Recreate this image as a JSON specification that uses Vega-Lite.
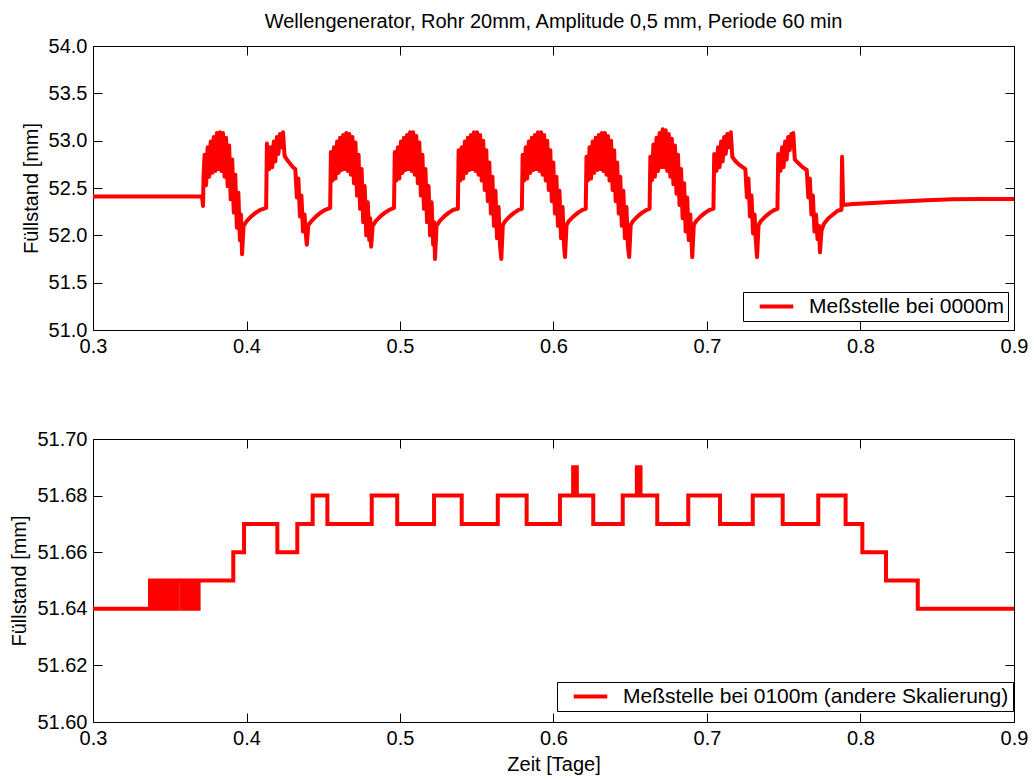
{
"$schema": "https://vega.github.io/schema/vega-lite/v6.json",
"background": "white",
"padding": {"left": 9, "top": 12, "right": 5, "bottom": 5},
"bounds": "flush",
"spacing": 109,
"title": {"text": "Wellengenerator, Rohr 20mm, Amplitude 0,5 mm, Periode 60 min", "anchor": "middle", "frame": "group", "fontSize": 20, "font": "Liberation Sans", "fontWeight": "normal", "color": "black", "offset": 4},
"config": {
  "view": {"stroke": null},
  "axis": {"domainColor": "black", "domainWidth": 1, "tickColor": "black", "tickWidth": 1, "tickSize": -9, "labelColor": "black", "titleColor": "black", "labelFont": "Liberation Sans", "titleFont": "Liberation Sans", "labelFontSize": 20, "titleFontSize": 20, "titleFontWeight": "normal", "grid": false, "labelFlush": false, "labelOverlap": false},
  "axisX": {"labelPadding": 15, "titlePadding": 6},
  "axisY": {"labelPadding": 15, "titlePadding": 7}
},
"resolve": {"scale": {"color": "independent", "x": "independent", "y": "independent"}},
"datasets": {
"top": [
{"t":0.3000,"v":52.41},{"t":0.3710,"v":52.41},{"t":0.3717,"v":52.31},{"t":0.3720,"v":52.62},
{"t":0.3727,"v":52.85},{"t":0.3737,"v":52.53},{"t":0.3747,"v":52.93},{"t":0.3757,"v":52.62},{"t":0.3767,"v":52.99},{"t":0.3777,"v":52.66},{"t":0.3787,"v":53.04},{"t":0.3797,"v":52.68},{"t":0.3807,"v":53.08},{"t":0.3817,"v":52.70},{"t":0.3827,"v":53.09},{"t":0.3837,"v":52.68},{"t":0.3847,"v":53.08},{"t":0.3857,"v":52.62},{"t":0.3867,"v":53.03},{"t":0.3877,"v":52.52},{"t":0.3887,"v":52.95},{"t":0.3897,"v":52.38},{"t":0.3907,"v":52.80},{"t":0.3917,"v":52.24},{"t":0.3927,"v":52.64},{"t":0.3937,"v":52.08},{"t":0.3947,"v":52.45},{"t":0.3957,"v":51.95},{"t":0.3964,"v":52.22},{"t":0.3971,"v":51.80},{"t":0.3981,"v":52.10},{"t":0.4001,"v":52.15},{"t":0.4031,"v":52.20},{"t":0.4061,"v":52.24},{"t":0.4091,"v":52.27},{"t":0.4128,"v":52.29},
{"t":0.4133,"v":52.97},{"t":0.4139,"v":52.75},{"t":0.4148,"v":52.70},{"t":0.4158,"v":52.93},{"t":0.4168,"v":52.72},{"t":0.4178,"v":52.99},{"t":0.4188,"v":52.78},{"t":0.4198,"v":53.04},{"t":0.4208,"v":52.86},{"t":0.4218,"v":53.07},{"t":0.4228,"v":52.93},{"t":0.4238,"v":53.09},{"t":0.4248,"v":52.84},{"t":0.4263,"v":52.80},{"t":0.4283,"v":52.76},{"t":0.4303,"v":52.72},{"t":0.4318,"v":52.70},{"t":0.4328,"v":52.40},{"t":0.4338,"v":52.60},{"t":0.4348,"v":52.20},{"t":0.4358,"v":52.42},{"t":0.4368,"v":52.04},{"t":0.4378,"v":52.22},{"t":0.4388,"v":51.98},{"t":0.4393,"v":51.90},{"t":0.4403,"v":52.11},{"t":0.4423,"v":52.15},{"t":0.4453,"v":52.20},{"t":0.4483,"v":52.24},{"t":0.4513,"v":52.27},{"t":0.4545,"v":52.29},
{"t":0.4550,"v":52.88},{"t":0.4560,"v":52.58},{"t":0.4570,"v":52.93},{"t":0.4580,"v":52.60},{"t":0.4590,"v":52.99},{"t":0.4600,"v":52.66},{"t":0.4610,"v":53.03},{"t":0.4620,"v":52.69},{"t":0.4630,"v":53.06},{"t":0.4640,"v":52.70},{"t":0.4650,"v":53.08},{"t":0.4660,"v":52.68},{"t":0.4670,"v":53.07},{"t":0.4680,"v":52.64},{"t":0.4690,"v":53.04},{"t":0.4700,"v":52.55},{"t":0.4710,"v":52.98},{"t":0.4720,"v":52.42},{"t":0.4730,"v":52.85},{"t":0.4740,"v":52.28},{"t":0.4750,"v":52.70},{"t":0.4760,"v":52.14},{"t":0.4770,"v":52.52},{"t":0.4780,"v":52.00},{"t":0.4790,"v":52.35},{"t":0.4800,"v":51.95},{"t":0.4806,"v":52.18},{"t":0.4812,"v":51.88},{"t":0.4822,"v":52.10},{"t":0.4842,"v":52.15},{"t":0.4872,"v":52.20},{"t":0.4902,"v":52.24},{"t":0.4932,"v":52.27},{"t":0.4961,"v":52.29},
{"t":0.4966,"v":52.88},{"t":0.4976,"v":52.58},{"t":0.4986,"v":52.93},{"t":0.4996,"v":52.60},{"t":0.5006,"v":52.99},{"t":0.5016,"v":52.66},{"t":0.5026,"v":53.03},{"t":0.5036,"v":52.69},{"t":0.5046,"v":53.06},{"t":0.5056,"v":52.70},{"t":0.5066,"v":53.09},{"t":0.5076,"v":52.68},{"t":0.5086,"v":53.09},{"t":0.5096,"v":52.64},{"t":0.5106,"v":53.05},{"t":0.5116,"v":52.55},{"t":0.5126,"v":52.98},{"t":0.5136,"v":52.42},{"t":0.5146,"v":52.85},{"t":0.5156,"v":52.28},{"t":0.5166,"v":52.70},{"t":0.5176,"v":52.14},{"t":0.5186,"v":52.52},{"t":0.5196,"v":52.00},{"t":0.5206,"v":52.35},{"t":0.5216,"v":51.90},{"t":0.5222,"v":52.14},{"t":0.5228,"v":51.75},{"t":0.5238,"v":52.10},{"t":0.5258,"v":52.15},{"t":0.5288,"v":52.20},{"t":0.5318,"v":52.24},{"t":0.5348,"v":52.27},{"t":0.5377,"v":52.28},
{"t":0.5382,"v":52.90},{"t":0.5392,"v":52.58},{"t":0.5402,"v":52.93},{"t":0.5412,"v":52.60},{"t":0.5422,"v":52.99},{"t":0.5432,"v":52.66},{"t":0.5442,"v":53.03},{"t":0.5452,"v":52.69},{"t":0.5462,"v":53.06},{"t":0.5472,"v":52.70},{"t":0.5482,"v":53.09},{"t":0.5492,"v":52.68},{"t":0.5502,"v":53.09},{"t":0.5512,"v":52.64},{"t":0.5522,"v":53.06},{"t":0.5532,"v":52.58},{"t":0.5542,"v":53.00},{"t":0.5552,"v":52.48},{"t":0.5562,"v":52.90},{"t":0.5572,"v":52.36},{"t":0.5582,"v":52.77},{"t":0.5592,"v":52.23},{"t":0.5602,"v":52.62},{"t":0.5612,"v":52.10},{"t":0.5622,"v":52.47},{"t":0.5632,"v":51.97},{"t":0.5642,"v":52.30},{"t":0.5652,"v":51.88},{"t":0.5660,"v":51.75},{"t":0.5670,"v":52.11},{"t":0.5685,"v":52.15},{"t":0.5715,"v":52.20},{"t":0.5745,"v":52.24},{"t":0.5775,"v":52.27},{"t":0.5794,"v":52.28},
{"t":0.5799,"v":52.85},{"t":0.5809,"v":52.58},{"t":0.5819,"v":52.93},{"t":0.5829,"v":52.60},{"t":0.5839,"v":52.99},{"t":0.5849,"v":52.66},{"t":0.5859,"v":53.03},{"t":0.5869,"v":52.69},{"t":0.5879,"v":53.06},{"t":0.5889,"v":52.70},{"t":0.5899,"v":53.09},{"t":0.5909,"v":52.68},{"t":0.5919,"v":53.09},{"t":0.5929,"v":52.64},{"t":0.5939,"v":53.06},{"t":0.5949,"v":52.58},{"t":0.5959,"v":53.00},{"t":0.5969,"v":52.48},{"t":0.5979,"v":52.90},{"t":0.5989,"v":52.36},{"t":0.5999,"v":52.77},{"t":0.6009,"v":52.23},{"t":0.6019,"v":52.62},{"t":0.6029,"v":52.10},{"t":0.6039,"v":52.47},{"t":0.6049,"v":51.97},{"t":0.6059,"v":52.30},{"t":0.6069,"v":51.88},{"t":0.6075,"v":51.77},{"t":0.6085,"v":52.11},{"t":0.6100,"v":52.15},{"t":0.6130,"v":52.20},{"t":0.6160,"v":52.24},{"t":0.6190,"v":52.27},{"t":0.6210,"v":52.28},
{"t":0.6215,"v":52.83},{"t":0.6225,"v":52.58},{"t":0.6235,"v":52.93},{"t":0.6245,"v":52.60},{"t":0.6255,"v":52.99},{"t":0.6265,"v":52.66},{"t":0.6275,"v":53.03},{"t":0.6285,"v":52.69},{"t":0.6295,"v":53.06},{"t":0.6305,"v":52.70},{"t":0.6315,"v":53.08},{"t":0.6325,"v":52.68},{"t":0.6335,"v":53.08},{"t":0.6345,"v":52.64},{"t":0.6355,"v":53.05},{"t":0.6365,"v":52.58},{"t":0.6375,"v":53.00},{"t":0.6385,"v":52.48},{"t":0.6395,"v":52.90},{"t":0.6405,"v":52.36},{"t":0.6415,"v":52.77},{"t":0.6425,"v":52.23},{"t":0.6435,"v":52.62},{"t":0.6445,"v":52.10},{"t":0.6455,"v":52.47},{"t":0.6465,"v":51.97},{"t":0.6475,"v":52.30},{"t":0.6485,"v":51.88},{"t":0.6493,"v":51.77},{"t":0.6503,"v":52.11},{"t":0.6518,"v":52.15},{"t":0.6548,"v":52.20},{"t":0.6578,"v":52.24},{"t":0.6608,"v":52.27},{"t":0.6626,"v":52.28},
{"t":0.6631,"v":52.83},{"t":0.6641,"v":52.58},{"t":0.6651,"v":52.96},{"t":0.6661,"v":52.62},{"t":0.6671,"v":53.03},{"t":0.6681,"v":52.68},{"t":0.6691,"v":53.08},{"t":0.6701,"v":52.72},{"t":0.6711,"v":53.12},{"t":0.6721,"v":52.72},{"t":0.6731,"v":53.11},{"t":0.6741,"v":52.68},{"t":0.6751,"v":53.07},{"t":0.6761,"v":52.62},{"t":0.6771,"v":53.02},{"t":0.6781,"v":52.54},{"t":0.6791,"v":52.95},{"t":0.6801,"v":52.44},{"t":0.6811,"v":52.85},{"t":0.6821,"v":52.32},{"t":0.6831,"v":52.70},{"t":0.6841,"v":52.18},{"t":0.6851,"v":52.55},{"t":0.6861,"v":52.04},{"t":0.6871,"v":52.40},{"t":0.6881,"v":51.95},{"t":0.6891,"v":52.22},{"t":0.6904,"v":51.77},{"t":0.6914,"v":52.11},{"t":0.6929,"v":52.15},{"t":0.6959,"v":52.20},{"t":0.6989,"v":52.24},{"t":0.7019,"v":52.27},{"t":0.7042,"v":52.28},
{"t":0.7047,"v":52.86},{"t":0.7053,"v":52.70},{"t":0.7062,"v":52.68},{"t":0.7072,"v":52.93},{"t":0.7082,"v":52.72},{"t":0.7092,"v":52.99},{"t":0.7102,"v":52.78},{"t":0.7112,"v":53.04},{"t":0.7122,"v":52.86},{"t":0.7132,"v":53.07},{"t":0.7142,"v":52.93},{"t":0.7155,"v":53.09},{"t":0.7165,"v":52.83},{"t":0.7182,"v":52.79},{"t":0.7207,"v":52.75},{"t":0.7232,"v":52.72},{"t":0.7250,"v":52.70},{"t":0.7260,"v":52.40},{"t":0.7270,"v":52.60},{"t":0.7280,"v":52.20},{"t":0.7290,"v":52.42},{"t":0.7300,"v":52.02},{"t":0.7310,"v":52.22},{"t":0.7318,"v":51.95},{"t":0.7326,"v":51.77},{"t":0.7336,"v":52.11},{"t":0.7351,"v":52.15},{"t":0.7381,"v":52.20},{"t":0.7411,"v":52.24},{"t":0.7441,"v":52.27},{"t":0.7459,"v":52.28},
{"t":0.7464,"v":52.86},{"t":0.7470,"v":52.70},{"t":0.7479,"v":52.68},{"t":0.7489,"v":52.93},{"t":0.7499,"v":52.72},{"t":0.7509,"v":52.99},{"t":0.7519,"v":52.80},{"t":0.7529,"v":53.04},{"t":0.7539,"v":52.90},{"t":0.7549,"v":53.07},{"t":0.7556,"v":52.95},{"t":0.7562,"v":53.08},{"t":0.7572,"v":52.80},{"t":0.7597,"v":52.76},{"t":0.7622,"v":52.72},{"t":0.7650,"v":52.69},{"t":0.7660,"v":52.40},{"t":0.7670,"v":52.60},{"t":0.7680,"v":52.22},{"t":0.7690,"v":52.42},{"t":0.7700,"v":52.04},{"t":0.7710,"v":52.22},{"t":0.7720,"v":51.96},{"t":0.7730,"v":52.10},{"t":0.7736,"v":51.82},{"t":0.7746,"v":52.05},{"t":0.7761,"v":52.12},{"t":0.7791,"v":52.18},{"t":0.7821,"v":52.22},{"t":0.7851,"v":52.26},{"t":0.7876,"v":52.27},
{"t":0.7880,"v":52.83},{"t":0.7887,"v":52.32},{"t":0.7950,"v":52.33},{"t":0.8050,"v":52.34},{"t":0.8170,"v":52.35},{"t":0.8300,"v":52.36},{"t":0.8430,"v":52.37},{"t":0.8600,"v":52.38},{"t":0.8800,"v":52.385},{"t":0.9000,"v":52.385}
],
"bottom": [
{"t":0.3000,"v":51.64},{"t":0.3371,"v":51.65},{"t":0.3381,"v":51.64},{"t":0.3391,"v":51.65},{"t":0.3401,"v":51.64},{"t":0.3411,"v":51.65},{"t":0.3421,"v":51.64},{"t":0.3431,"v":51.65},{"t":0.3441,"v":51.64},{"t":0.3451,"v":51.65},{"t":0.3461,"v":51.64},{"t":0.3471,"v":51.65},{"t":0.3481,"v":51.64},{"t":0.3491,"v":51.65},{"t":0.3501,"v":51.64},{"t":0.3511,"v":51.65},{"t":0.3521,"v":51.64},{"t":0.3531,"v":51.65},{"t":0.3541,"v":51.64},{"t":0.3551,"v":51.65},
{"t":0.3578,"v":51.64},{"t":0.3588,"v":51.65},{"t":0.3598,"v":51.64},{"t":0.3608,"v":51.65},{"t":0.3618,"v":51.64},{"t":0.3628,"v":51.65},{"t":0.3638,"v":51.64},{"t":0.3648,"v":51.65},{"t":0.3658,"v":51.64},{"t":0.3668,"v":51.65},{"t":0.3678,"v":51.64},{"t":0.3688,"v":51.65},
{"t":0.3914,"v":51.66},{"t":0.3984,"v":51.67},{"t":0.4201,"v":51.66},{"t":0.4331,"v":51.67},{"t":0.4431,"v":51.68},{"t":0.4527,"v":51.67},{"t":0.4816,"v":51.68},{"t":0.4982,"v":51.67},{"t":0.5222,"v":51.68},{"t":0.5402,"v":51.67},{"t":0.5637,"v":51.68},{"t":0.5825,"v":51.67},{"t":0.6042,"v":51.68},
{"t":0.6128,"v":51.69},{"t":0.6136,"v":51.68},{"t":0.6144,"v":51.69},{"t":0.6152,"v":51.68},
{"t":0.6259,"v":51.67},{"t":0.6451,"v":51.68},
{"t":0.6543,"v":51.69},{"t":0.6551,"v":51.68},{"t":0.6559,"v":51.69},{"t":0.6567,"v":51.68},
{"t":0.6676,"v":51.67},{"t":0.6878,"v":51.68},{"t":0.7085,"v":51.67},{"t":0.7298,"v":51.68},{"t":0.7493,"v":51.67},{"t":0.7725,"v":51.68},{"t":0.7903,"v":51.67},{"t":0.8012,"v":51.66},{"t":0.8166,"v":51.65},{"t":0.8373,"v":51.64},{"t":0.9000,"v":51.64}
]
},
"vconcat": [
{
  "width": 921, "height": 284,
  "data": {"name": "top"},
  "layer": [
    {
      "mark": {"type": "line", "strokeWidth": 4, "clip": true, "strokeJoin": "round"},
      "encoding": {
        "x": {"field": "t", "type": "quantitative", "scale": {"domain": [0.3, 0.9], "nice": false, "zero": false}, "axis": {"values": [0.3,0.4,0.5,0.6,0.7,0.8,0.9], "format": ".1f", "title": null}},
        "y": {"field": "v", "type": "quantitative", "scale": {"domain": [51, 54], "nice": false, "zero": false}, "axis": {"values": [51,51.5,52,52.5,53,53.5,54], "format": ".1f", "title": "Füllstand [mm]"}},
        "color": {"datum": "Meßstelle bei 0000m", "scale": {"range": ["#ff0000"]}, "legend": {"orient": "none", "legendX": 650, "legendY": 246, "title": null, "symbolType": "M-2.8,0H2.8", "symbolStrokeWidth": 4, "symbolSize": 144, "symbolStrokeColor": "#ff0000", "labelFontSize": 21, "labelFont": "Liberation Sans", "labelColor": "black", "labelLimit": 500, "strokeColor": "black", "fillColor": "white", "padding": 4, "symbolOffset": 19, "labelOffset": 22, "cornerRadius": 0}}
      }
    },
    {
      "mark": {"type": "line", "strokeOpacity": 0},
      "encoding": {
        "x": {"field": "t", "type": "quantitative", "scale": {"domain": [0.3, 0.9], "nice": false, "zero": false}, "axis": {"orient": "top", "labels": false, "title": null, "values": [0.3,0.4,0.5,0.6,0.7,0.8,0.9]}},
        "y": {"field": "v", "type": "quantitative", "scale": {"domain": [51, 54], "nice": false, "zero": false}, "axis": {"orient": "right", "labels": false, "title": null, "values": [51,51.5,52,52.5,53,53.5,54]}}
      }
    }
  ],
  "resolve": {"axis": {"x": "independent", "y": "independent"}}
},
{
  "width": 921, "height": 283,
  "data": {"name": "bottom"},
  "layer": [
    {
      "mark": {"type": "line", "strokeWidth": 4, "clip": true, "interpolate": "step-after"},
      "encoding": {
        "x": {"field": "t", "type": "quantitative", "scale": {"domain": [0.3, 0.9], "nice": false, "zero": false}, "axis": {"values": [0.3,0.4,0.5,0.6,0.7,0.8,0.9], "format": ".1f", "title": "Zeit [Tage]"}},
        "y": {"field": "v", "type": "quantitative", "scale": {"domain": [51.6, 51.7], "nice": false, "zero": false}, "axis": {"values": [51.6,51.62,51.64,51.66,51.68,51.7], "format": ".2f", "title": "Füllstand [mm]"}},
        "color": {"datum": "Meßstelle bei 0100m (andere Skalierung)", "scale": {"range": ["#ff0000"]}, "legend": {"orient": "none", "legendX": 464, "legendY": 243, "title": null, "symbolType": "M-2.8,0H2.8", "symbolStrokeWidth": 4, "symbolSize": 144, "symbolStrokeColor": "#ff0000", "labelFontSize": 21, "labelFont": "Liberation Sans", "labelColor": "black", "labelLimit": 500, "strokeColor": "black", "fillColor": "white", "padding": 4, "symbolOffset": 19, "labelOffset": 22, "cornerRadius": 0}}
      }
    },
    {
      "mark": {"type": "line", "strokeOpacity": 0, "interpolate": "step-after"},
      "encoding": {
        "x": {"field": "t", "type": "quantitative", "scale": {"domain": [0.3, 0.9], "nice": false, "zero": false}, "axis": {"orient": "top", "labels": false, "title": null, "values": [0.3,0.4,0.5,0.6,0.7,0.8,0.9]}},
        "y": {"field": "v", "type": "quantitative", "scale": {"domain": [51.6, 51.7], "nice": false, "zero": false}, "axis": {"orient": "right", "labels": false, "title": null, "values": [51.6,51.62,51.64,51.66,51.68,51.7]}}
      }
    }
  ],
  "resolve": {"axis": {"x": "independent", "y": "independent"}}
}
]
}
